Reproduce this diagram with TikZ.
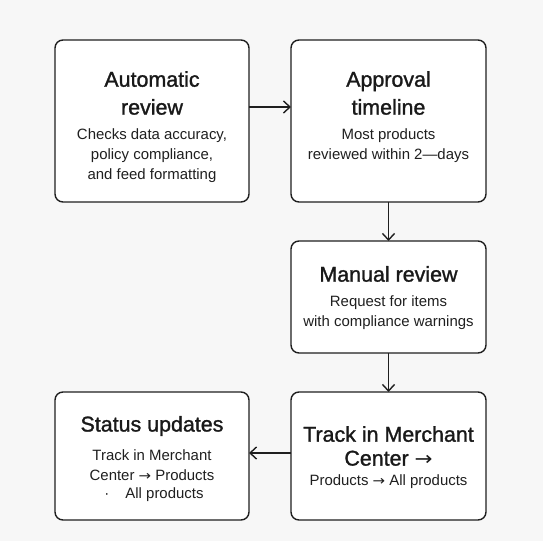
\documentclass[tikz,border=0pt]{standalone}
\usepackage{fontspec}
\setmainfont{Liberation Sans}
\newfontfamily\ttlfont[FakeBold=1.3]{Liberation Sans}
\newfontfamily\arrfont{DejaVu Sans}
\newcommand{\rarr}{{\arrfont\scalebox{1.0}[0.9]{→}}}
\usetikzlibrary{arrows.meta}
\begin{document}
\begin{tikzpicture}[x=1bp,y=-1bp,
  box/.style={draw=black!88, line width=1.4bp, rounded corners=8bp, fill=white},
  ttl/.style={font=\ttlfont\fontsize{21.5}{28}\selectfont, text=black!90, align=center, inner sep=0pt},
  bdy/.style={font=\fontsize{15}{20}\selectfont, text=black!88, align=center, inner sep=0pt},
  conn/.style={draw=black!88, line width=1.4bp, -{Straight Barb[length=6.5bp,width=12bp,line width=1.4bp]}}]
\fill[gray!6] (0,0) rectangle (543,541);
\useasboundingbox (0,0) rectangle (543,541);
% boxes
\draw[box] (55,40) rectangle (249,202);
\draw[box] (291,40) rectangle (486,202);
\draw[box] (291,241) rectangle (486,353);
\draw[box] (291,392) rectangle (486,520);
\draw[box] (55,392) rectangle (249,520);
% anchor coordinates
\coordinate (aR) at (249,107);
\coordinate (bL) at (291,107);
\coordinate (bB) at (388.5,202);
\coordinate (cT) at (388.5,241);
\coordinate (cB) at (388.5,353);
\coordinate (dT) at (388.5,392);
\coordinate (dL) at (291,453);
\coordinate (eR) at (249,453);
% texts
\node[ttl] (t1) at (152,93) {Automatic\\review};
\node[bdy] (s1) at (152,156) {Checks data accuracy,\\policy compliance,\\and feed formatting};
\node[ttl] (t2) at (388.5,93) {Approval\\timeline};
\node[bdy] (s2) at (388.5,146) {Most products\\reviewed within 2—days};
\node[ttl] (t3) at (388.5,274) {Manual review};
\node[bdy] (s3) at (388.5,313) {Request for items\\with compliance warnings};
\node[ttl, font=\ttlfont\fontsize{21.5}{24}\selectfont] (t4) at (388.5,446) {Track in Merchant\\Center \rarr};
\node[bdy] (s4) at (388.5,482) {Products \rarr{} All products};
\node[ttl] (t5) at (152,426) {Status updates};
\node[bdy] (s5) at (152,465) {Track in Merchant\\Center \rarr{} Products};
\node[bdy] (s6) at (154,495) {·\hspace{16bp}All products};
% connectors
\draw[conn] (aR) -- (bL);
\draw[conn] (bB) -- (cT);
\draw[conn] (cB) -- (dT);
\draw[conn] (dL) -- (eR);
\end{tikzpicture}
\end{document}
